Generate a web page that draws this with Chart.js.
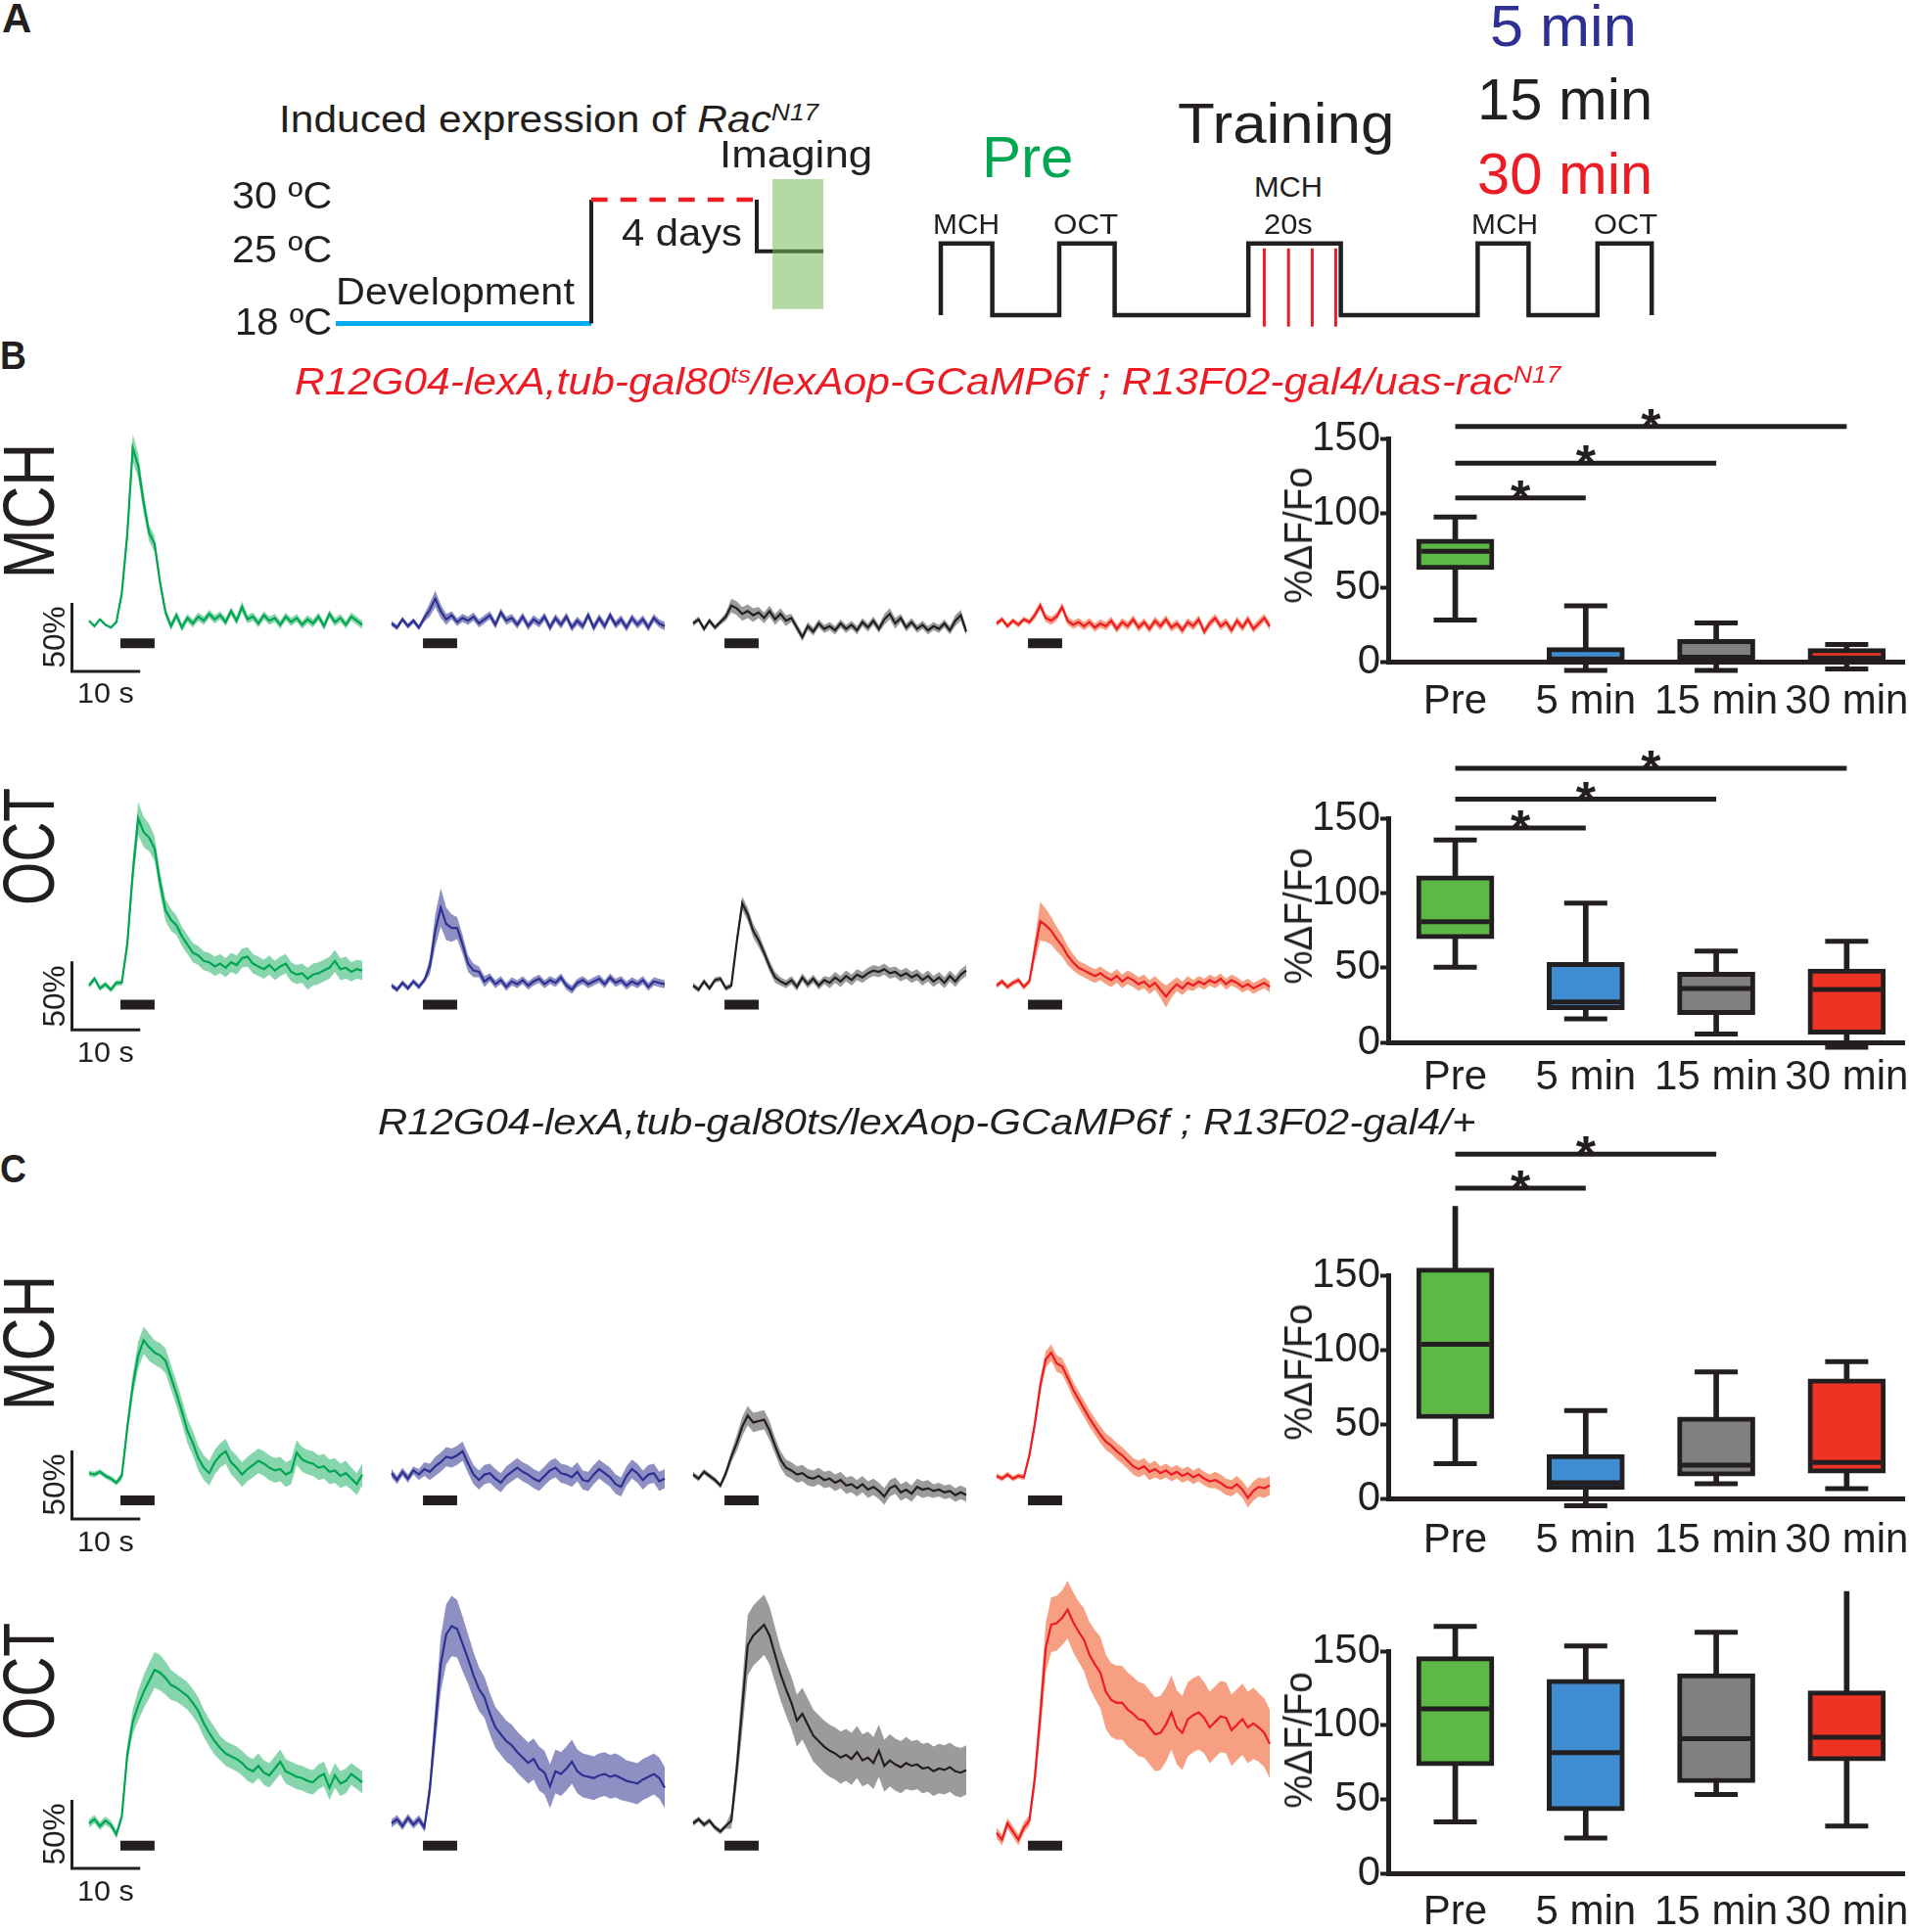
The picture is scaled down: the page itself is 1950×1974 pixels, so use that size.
<!DOCTYPE html>
<html>
<head>
<meta charset="utf-8">
<script src="https://cdn.jsdelivr.net/npm/chart.js@4.4.1/dist/chart.umd.min.js"></script>
<style>
  body { margin: 0; background: #fff; }
  #page { position: relative; width: 1950px; height: 1974px; overflow: hidden; background: #fff;
          font-family: "Liberation Sans", Arial, sans-serif; color: #231f20; }
  .t { position: absolute; white-space: nowrap; line-height: 1; transform-origin: 0 0; }
</style>
</head>
<body>
<div id="page"></div>
<script>
// ---- data ----
const CATEGORIES = ['Pre', '5 min', '15 min', '30 min'];
const Y_TICK_STEP = 50;
const FRAME_S = 0.8;          // sampling interval of the traces
const STIM_S = [4.6, 9.6];    // odor on / off (s)
const SCALE_BAR = { s: 10, pct: 50 };

// mean %dF/F traces and their s.e.m. (one value per frame)
const B_MCH_PRE = [2,-2,3,-1,-3,1,22,65,128,115, 88,66,58,30,8,-2,6,-3,4,0, 5,2,7,3,6,1,9,2,12,3, 5,0,6,2,4,-1,5,1,4,-1, 3,0,5,-2,7,1,4,-1,5,2, -1];
const B_MCH_PRE_SEM = [1,1,1,1,1,1,4,7,10,9, 8,6,6,4,3,3,3,3,3,3, 3,3,3,3,3,3,3,3,4,3, 3,3,3,3,3,3,3,3,3,3, 3,3,3,3,3,3,3,3,3,3, 3];
const B_MCH_5 = [0,-3,3,-2,2,-3,4,10,18,9, 3,6,1,4,2,5,0,3,6,-1, 8,2,4,-1,5,-2,3,0,5,-3, 4,-1,5,-3,2,-2,6,-3,4,-2, 6,-1,3,-3,4,-1,3,-3,4,0, -2];
const B_MCH_5_SEM = [2,2,2,2,2,2,3,5,6,5, 4,3,3,3,3,3,3,3,3,3, 3,3,3,3,3,3,3,3,3,3, 3,3,3,3,3,3,3,3,3,3, 3,3,3,3,3,3,3,3,3,3, 3];
const B_MCH_15 = [0,3,-4,2,-3,1,5,13,11,7, 9,6,8,4,9,3,7,2,4,-3, -10,-2,-6,0,-4,-2,-5,0,-4,-1, -5,1,-3,2,-4,3,7,0,4,-3, 1,-4,-1,-5,-2,-4,0,-5,2,6, -6];
const B_MCH_15_SEM = [2,2,2,2,2,2,3,5,5,5, 5,5,4,4,4,4,4,4,3,3, 3,3,3,3,3,3,3,3,3,3, 3,3,3,3,3,4,4,4,3,3, 3,3,3,3,3,3,3,3,4,4, 3];
const B_MCH_30 = [0,3,-2,2,-1,3,1,6,13,4, 2,5,12,2,-1,1,-2,1,-3,0, -2,2,-4,1,-2,3,-3,1,-4,2, -2,3,-3,0,-5,1,-2,3,-6,0, 4,-2,1,-5,2,-3,3,-4,0,4, -2];
const B_MCH_30_SEM = [2,2,2,2,2,2,2,3,3,3, 3,3,3,3,3,3,3,3,3,3, 3,3,3,3,3,3,3,3,3,3, 3,3,3,3,3,3,3,3,3,3, 3,3,3,3,3,3,3,3,3,3, 3];

const B_OCT_PRE = [0,5,-2,1,-3,2,2,30,82,122, 112,108,100,75,55,48,44,36,30,24, 22,18,17,14,16,13,17,15,20,21, 16,14,12,15,11,14,16,10,8,9, 5,8,9,11,13,18,12,13,10,12, 11];
const B_OCT_PRE_SEM = [2,2,2,2,2,2,2,6,10,12, 11,10,9,8,8,8,7,7,7,7, 7,7,7,7,7,7,7,7,7,7, 7,7,7,7,7,7,7,7,7,7, 8,8,8,8,8,8,8,8,7,7, 7];
const B_OCT_5 = [0,-3,2,-2,3,-1,4,14,40,57, 45,42,42,30,16,11,10,3,6,1, 4,-1,3,1,4,0,3,5,1,4, 2,6,0,-3,2,4,1,3,5,1, 6,2,4,0,3,1,4,-1,3,2, 1];
const B_OCT_5_SEM = [2,2,2,2,2,2,2,6,12,14, 12,10,8,7,6,5,4,4,3,3, 3,3,3,3,3,3,3,3,3,3, 3,3,3,3,3,3,3,3,3,3, 3,3,3,3,3,3,3,3,3,3, 3];
const B_OCT_15 = [0,-3,3,-2,4,5,-2,0,32,60, 52,40,33,24,14,6,3,1,4,-1, 6,1,5,0,4,2,6,3,7,4, 8,6,9,11,10,12,9,10,7,9, 6,8,4,7,3,6,2,7,3,8, 11];
const B_OCT_15_SEM = [2,2,2,2,2,2,2,2,4,5, 5,5,5,4,4,4,3,3,3,3, 3,3,3,3,3,4,4,4,4,4, 4,4,4,4,4,4,4,4,4,4, 4,4,4,4,4,4,4,4,4,4, 4];
const B_OCT_30 = [0,3,-1,2,4,-1,3,26,47,44, 40,34,29,22,17,13,11,9,7,9, 6,4,7,3,6,4,1,3,-1,2, -3,-8,-3,1,-2,2,0,3,1,4, 2,5,1,4,2,-1,1,-2,0,2, -1];
const B_OCT_30_SEM = [2,2,2,2,2,2,2,8,14,12, 10,9,8,7,6,5,5,5,5,5, 5,5,5,5,5,5,5,5,5,5, 6,8,6,5,5,5,4,4,4,4, 4,4,4,4,4,4,4,4,4,4, 4];

const C_MCH_PRE = [2,1,3,0,-2,-5,0,35,66,88, 99,94,90,88,84,72,60,47,33,24, 13,6,2,10,15,18,10,6,1,5, 8,11,9,6,4,5,1,3,17,12, 10,9,6,7,3,4,0,2,-2,-6, 1];
const C_MCH_PRE_SEM = [2,2,2,2,2,2,3,6,8,10, 10,10,9,9,9,9,9,9,9,9, 9,9,9,9,9,9,9,9,9,9, 9,9,9,9,9,9,9,9,9,9, 9,9,9,9,9,9,9,9,8,8, 8];
const C_MCH_5 = [2,-3,3,-2,4,1,5,3,7,10, 14,13,15,18,9,1,-3,1,2,-2, -5,0,3,6,3,1,-2,-4,0,4, 6,2,1,-1,3,-3,-4,1,5,2, -1,-6,-8,0,5,2,-3,1,2,-4, -2];
const C_MCH_5_SEM = [3,3,3,3,3,4,5,6,7,7, 7,7,7,7,7,7,7,7,7,7, 7,7,7,7,7,7,7,7,7,7, 7,7,7,7,7,7,7,7,7,7, 7,7,7,7,7,7,7,7,7,7, 7];
const C_MCH_15 = [1,-2,3,0,-3,-7,2,14,24,36, 44,39,40,41,33,22,12,6,4,1, 2,-1,-2,0,-3,-2,-5,-3,-7,-6, -9,-6,-10,-8,-11,-15,-9,-7,-12,-10, -13,-8,-10,-9,-11,-10,-12,-11,-14,-12, -14];
const C_MCH_15_SEM = [2,2,2,2,2,2,3,4,6,7, 7,7,7,7,7,6,6,6,6,6, 6,6,6,6,6,6,6,6,6,6, 6,6,6,6,6,6,6,6,6,6, 6,6,6,6,5,5,5,5,5,5, 5];
const C_MCH_30 = [0,-2,1,-2,0,-1,15,38,66,85, 90,82,80,72,63,56,49,42,36,30, 25,22,18,15,11,7,5,7,3,5, 2,4,1,3,0,2,-1,1,-2,-4, -3,-5,-8,-9,-6,-10,-16,-11,-8,-9, -7];
const C_MCH_30_SEM = [2,2,2,2,2,2,3,5,6,6, 6,6,6,6,6,6,6,6,6,6, 6,6,6,6,6,6,6,6,6,6, 5,5,5,5,5,5,5,5,5,5, 6,6,6,6,6,6,7,7,7,7, 7];

const C_OCT_PRE = [0,3,-2,2,-1,-8,5,50,74,86, 96,104,112,110,106,101,99,96,93,88, 82,73,66,60,55,51,49,47,44,40, 38,42,37,35,40,45,38,36,34,33, 31,30,34,36,26,35,29,31,36,33, 30];
const C_OCT_PRE_SEM = [3,3,3,3,3,3,3,6,9,11, 12,13,13,13,12,11,10,10,10,10, 10,10,10,10,9,9,9,9,9,9, 9,9,9,9,9,9,9,9,9,9, 9,9,9,9,9,9,9,9,8,8, 8];
const C_OCT_5 = [0,3,-2,4,-1,3,-3,25,71,116, 138,144,142,131,120,108,98,92,80,70, 65,60,57,52,48,44,47,40,37,27, 38,36,40,45,38,35,34,33,35,36, 34,35,33,31,30,29,32,34,36,33, 26];
const C_OCT_5_SEM = [3,3,3,3,3,3,3,8,15,20, 22,22,21,20,18,17,16,15,15,15, 15,15,15,15,15,15,15,16,16,16, 16,16,16,16,16,16,16,16,16,16, 16,16,16,15,15,15,15,15,15,15, 15];
const C_OCT_15 = [0,3,-1,2,-3,-6,-2,2,40,85, 130,137,141,145,137,123,109,98,88,75, 80,72,64,60,56,53,51,48,50,47, 52,46,48,44,53,42,46,43,41,44, 42,43,40,41,38,40,39,41,38,37, 39];
const C_OCT_15_SEM = [2,2,2,2,2,2,2,6,12,18, 22,22,22,22,21,20,19,19,19,19, 19,19,19,19,19,19,19,19,19,19, 19,19,19,19,19,19,19,19,19,19, 18,18,18,18,18,18,18,18,18,18, 18];
const C_OCT_30 = [-7,-12,0,-6,-12,-3,2,33,79,128, 145,146,150,156,147,140,134,123,116,110, 96,90,88,88,83,80,76,75,70,65, 66,72,81,70,66,76,79,81,77,70, 74,78,77,68,72,76,70,73,70,66, 58];
const C_OCT_30_SEM = [4,4,4,4,4,4,4,8,14,18, 20,20,20,21,22,22,23,24,25,26, 27,27,27,27,27,27,27,27,27,27, 27,27,27,27,27,27,27,27,26,26, 26,26,26,26,26,26,26,26,25,25, 25];

// box plots: [min, q1, median, q3, max] per category
const BOX_B_MCH = [[28, 62, 74.3, 82.4, 97.4], [-6, 0, 1, 9.5, 37.6], [-6, 1.5, 2.5, 15, 26], [-5, 1, 1.5, 8.8, 11.6]];
const BOX_B_OCT = [[50.2, 69.4, 80.8, 111.4, 135.4], [15.7, 21.8, 27, 53.5, 93.2], [5.5, 18.6, 36, 47, 61.1], [-3.3, 5.5, 35.4, 49.1, 67.7]];
const BOX_C_MCH = [[23.4, 53.6, 103.6, 154.8, 196.4], [-5, 5.9, 10.5, 29.6, 59.1], [9.9, 15, 22.3, 54.7, 85], [6.6, 17, 24.1, 80.4, 92]];
const BOX_C_OCT = [[34.7, 72.6, 111, 146.3, 166.7], [23.8, 42.2, 81.4, 130.9, 153.5], [53.2, 61.1, 90.8, 134.8, 162.7], [31.9, 75.9, 91.9, 123.2, 190.2]];
// significant comparisons (category index pairs)
const SIG_B_MCH = [[0, 1], [0, 2], [0, 3]];
const SIG_B_OCT = [[0, 1], [0, 2], [0, 3]];
const SIG_C_MCH = [[0, 1], [0, 2]];
const SIG_C_OCT = [];

// protocol schematic
const TEMPS_C = [18, 30, 25];
const TEMP_PHASES = [[0, 13.05], [13.05, 21.5], [21.5, 24.9]];
const IMAGING_WINDOW = [22.3, 24.9];
const ODOR_PULSES = [[0, 2.63], [6.05, 8.88], [15.71, 20.43], [27.42, 30.02], [33.54, 36.31]];
const SHOCKS = [16.52, 17.76, 18.97, 20.17];

// ---- styling / layout ----
const INK = '#231f20', GREEN = '#00a651', BLUE = '#2e3192', RED = '#ed1c24', CYAN = '#00aeef';
const TRACE_COLORS = [
  { line: GREEN, band: 'rgba(0,166,81,0.47)' },
  { line: BLUE, band: 'rgba(46,49,146,0.54)' },
  { line: INK, band: 'rgba(35,31,32,0.45)' },
  { line: RED, band: 'rgba(238,80,30,0.55)' }
];
const BOX_FILL = ['#5cb946', '#3f8cd0', '#808080', '#ee3224'];
const PX_S = 6.97, PX_PCT = 1.4, Y_MIN = -45, Y_MAX = 190, SB_X = -2.5;
const COL_X = [91, 399.5, 708, 1017.5];
const ROWS = [
  { base: 636.7, stim: -14.5, bar: -35, name: 'MCH', labelY: 522, w: 139 },
  { base: 1007.3, stim: -14, bar: -32.4, name: 'OCT', labelY: 865, w: 120 },
  { base: 1508.3, stim: -17.9, bar: -31.4, name: 'MCH', labelY: 1372, w: 139 },
  { base: 1863.3, stim: -16.2, bar: -32.9, name: 'OCT', labelY: 1718, w: 120 }
];
const TRACES = [
  [[B_MCH_PRE, B_MCH_PRE_SEM], [B_MCH_5, B_MCH_5_SEM], [B_MCH_15, B_MCH_15_SEM], [B_MCH_30, B_MCH_30_SEM]],
  [[B_OCT_PRE, B_OCT_PRE_SEM], [B_OCT_5, B_OCT_5_SEM], [B_OCT_15, B_OCT_15_SEM], [B_OCT_30, B_OCT_30_SEM]],
  [[C_MCH_PRE, C_MCH_PRE_SEM], [C_MCH_5, C_MCH_5_SEM], [C_MCH_15, C_MCH_15_SEM], [C_MCH_30, C_MCH_30_SEM]],
  [[C_OCT_PRE, C_OCT_PRE_SEM], [C_OCT_5, C_OCT_5_SEM], [C_OCT_15, C_OCT_15_SEM], [C_OCT_30, C_OCT_30_SEM]]
];
const BOXES = [
  { stats: BOX_B_MCH, sig: SIG_B_MCH, sigH: [110.1, 133.6, 158.2], top: 400, padTop: 48.3, plotH: 227.7, axisH: 69, labPad: 16, titleY: 547 },
  { stats: BOX_B_OCT, sig: SIG_B_OCT, sigH: [143.4, 162.7, 183.4], top: 750, padTop: 86, plotH: 229, axisH: 69, labPad: 11, titleY: 936 },
  { stats: BOX_C_MCH, sig: SIG_C_MCH, sigH: [208.5, 231.4], top: 1140, padTop: 163, plotH: 228.3, axisH: 69, labPad: 18, titleY: 1402 },
  { stats: BOX_C_OCT, sig: SIG_C_OCT, sigH: [], top: 1611, padTop: 76, plotH: 227.3, axisH: 63, labPad: 15, titleY: 1778 }
];

Chart.defaults.animation = false;
Chart.defaults.responsive = false;
Chart.defaults.layout.autoPadding = false;
Chart.defaults.font.family = '"Liberation Sans", Arial, sans-serif';
Chart.defaults.color = INK;
Chart.defaults.plugins.legend.display = false;
Chart.defaults.plugins.tooltip.enabled = false;

const page = document.getElementById('page');

function canvas(left, top, w, h) {
  const c = document.createElement('canvas');
  c.width = Math.round(w);
  c.height = Math.round(h);
  c.style.cssText = 'position:absolute;left:' + left + 'px;top:' + top + 'px;width:' + Math.round(w) + 'px;height:' + Math.round(h) + 'px';
  page.appendChild(c);
  return c;
}

function sup(s) {
  return '<span style="position:relative;top:-0.5em;font-size:0.62em">' + s + '</span>';
}

// text placed by baseline (or centre when rotated), squeezed/stretched to width w
function txt(html, o) {
  const d = document.createElement('div');
  d.className = 't';
  d.innerHTML = html;
  d.style.fontSize = o.size + 'px';
  d.style.color = o.color || INK;
  if (o.italic) d.style.fontStyle = 'italic';
  if (o.bold) d.style.fontWeight = 'bold';
  page.appendChild(d);
  const w0 = d.offsetWidth;
  const sx = o.w ? o.w / w0 : 1;
  if (o.rot) {
    d.style.left = o.cx + 'px';
    d.style.top = o.cy + 'px';
    d.style.transform = 'rotate(-90deg) scaleX(' + sx + ') translate(-50%,-50%)';
  } else {
    const w = w0 * sx;
    let left = o.x;
    if (o.align === 'center') left -= w / 2;
    if (o.align === 'right') left -= w;
    d.style.left = left + 'px';
    d.style.top = (o.y - 0.85 * o.size) + 'px';
    d.style.transform = 'scaleX(' + sx + ')';
  }
}

const seg = (pts, color, width, extra) => Object.assign({
  data: pts.map(p => ({ x: p[0], y: p[1] })),
  borderColor: color, borderWidth: width, pointRadius: 0, fill: false, clip: false
}, extra || {});

// ---- panel A, temperature protocol ----
(function () {
  const [dev, heat, img] = TEMP_PHASES;
  const ds = [
    seg([[IMAGING_WINDOW[0], 32], [IMAGING_WINDOW[1], 32]], 'rgba(0,0,0,0)', 0, { fill: '+1', backgroundColor: 'rgba(118,186,91,0.55)' }),
    seg([[IMAGING_WINDOW[0], 19.4], [IMAGING_WINDOW[1], 19.4]], 'rgba(0,0,0,0)', 0),
    seg([[img[0], TEMPS_C[1]], [img[0], TEMPS_C[2]], [img[1], TEMPS_C[2]]], INK, 4, { borderJoinStyle: 'miter' }),
    seg([[heat[0], TEMPS_C[1]], [heat[1], TEMPS_C[1]]], RED, 4.5, { borderDash: [16.6, 13.1] }),
    seg([[heat[0], TEMPS_C[0]], [heat[0], TEMPS_C[1]]], INK, 4),
    seg([[dev[0], TEMPS_C[0]], [dev[1], TEMPS_C[0]]], CYAN, 5)
  ];
  new Chart(canvas(322.8, 162.3, 540, 200.3), {
    type: 'line',
    data: { datasets: ds },
    options: {
      layout: { padding: 0 },
      scales: { x: { type: 'linear', min: -1, max: 26, display: false }, y: { min: 15, max: 34, display: false } }
    }
  });
})();

// ---- panel A, odor / shock protocol ----
(function () {
  const wave = [];
  ODOR_PULSES.forEach(([a, b]) => { wave.push([a, 0], [a, 1], [b, 1], [b, 0]); });
  const ds = [seg(wave, INK, 4.5, { borderJoinStyle: 'miter' })];
  SHOCKS.forEach(s => ds.push(seg([[s, -0.16], [s, 0.93]], RED, 3)));
  new Chart(canvas(940.6, 233.6, 770, 110.1), {
    type: 'line',
    data: { datasets: ds },
    options: {
      layout: { padding: 0 },
      scales: { x: { type: 'linear', min: -1, max: 37.5, display: false }, y: { min: -0.3, max: 1.2, display: false } }
    }
  });
})();

// ---- calcium traces ----
function traceChart(r, c) {
  const row = ROWS[r];
  const [mean, sem] = TRACES[r][c];
  const xmin = c === 0 ? -3 : -1, xmax = 41;
  const t = i => i * FRAME_S;
  const ds = [
    { data: mean.map((v, i) => ({ x: t(i), y: v })), borderColor: TRACE_COLORS[c].line, borderWidth: 2.2, pointRadius: 0 },
    { data: mean.map((v, i) => ({ x: t(i), y: v + sem[i] })), borderWidth: 0, pointRadius: 0, fill: '+1', backgroundColor: TRACE_COLORS[c].band },
    { data: mean.map((v, i) => ({ x: t(i), y: v - sem[i] })), borderWidth: 0, pointRadius: 0 },
    seg([[STIM_S[0], row.stim], [STIM_S[1], row.stim]], INK, 10, { borderCapStyle: 'butt' })
  ];
  if (c === 0) {
    ds.push(seg([[SB_X, row.bar + SCALE_BAR.pct], [SB_X, row.bar], [SB_X + SCALE_BAR.s, row.bar]], INK, 3, { borderJoinStyle: 'miter' }));
  }
  new Chart(canvas(COL_X[c] + xmin * PX_S, row.base - Y_MAX * PX_PCT, (xmax - xmin) * PX_S, (Y_MAX - Y_MIN) * PX_PCT), {
    type: 'line',
    data: { datasets: ds },
    options: {
      layout: { padding: 0 },
      elements: { line: { tension: 0 } },
      scales: { x: { type: 'linear', min: xmin, max: xmax, display: false }, y: { min: Y_MIN, max: Y_MAX, display: false } }
    }
  });
}
for (let r = 0; r < 4; r++) for (let c = 0; c < 4; c++) traceChart(r, c);

// ---- box plots ----
const starPlugin = {
  id: 'stars',
  afterDatasetsDraw(chart, args, opts) {
    const { ctx, scales: { x, y } } = chart;
    ctx.save();
    ctx.font = 'bold 52px "Liberation Sans", Arial, sans-serif';
    ctx.fillStyle = INK;
    ctx.textAlign = 'center';
    ctx.textBaseline = 'alphabetic';
    (opts.items || []).forEach(it => ctx.fillText('*', x.getPixelForValue(it.x), y.getPixelForValue(it.y) + 18));
    ctx.restore();
  }
};

function boxChart(b) {
  const s = b.stats;
  const ds = [
    { type: 'line', data: s.map((v, i) => ({ x: i, y: v[2] })), showLine: false, pointStyle: 'line', pointRadius: 35, pointBorderWidth: 5, pointBorderColor: INK, clip: false },
    { type: 'line', data: s.flatMap((v, i) => [{ x: i, y: v[0] }, { x: i, y: v[4] }]), showLine: false, pointStyle: 'line', pointRadius: 22, pointBorderWidth: 5, pointBorderColor: INK, clip: false },
    { type: 'bar', data: s.map((v, i) => ({ x: i, y: [v[1], v[3]] })), backgroundColor: BOX_FILL, borderColor: INK, borderWidth: 5, borderSkipped: false, barThickness: 79, grouped: false, clip: false },
    { type: 'bar', data: s.map((v, i) => ({ x: i, y: [v[0], v[4]] })), backgroundColor: INK, borderWidth: 0, barThickness: 5, grouped: false, clip: false }
  ];
  b.sig.forEach((p, j) => ds.push({ type: 'line', data: [{ x: p[0], y: b.sigH[j] }, { x: p[1], y: b.sigH[j] }], borderColor: INK, borderWidth: 5, pointRadius: 0, clip: false }));
  const h = b.padTop + b.plotH + b.axisH;
  new Chart(canvas(1297, b.top, 653, h), {
    type: 'bar',
    data: { datasets: ds },
    plugins: [starPlugin],
    options: {
      layout: { autoPadding: false, padding: { top: b.padTop, right: 5, left: 0, bottom: 0 } },
      plugins: { stars: { items: b.sig.map((p, j) => ({ x: (p[0] + p[1]) / 2, y: b.sigH[j] })) } },
      scales: {
        x: {
          type: 'linear', min: -0.514, max: 3.44, offset: false,
          afterBuildTicks: sc => { sc.ticks = CATEGORIES.map((_, i) => ({ value: i })); },
          afterFit: sc => { sc.height = b.axisH; sc.paddingLeft = 0; sc.paddingRight = 0; },
          ticks: { callback: v => CATEGORIES[v], font: { size: 42 }, color: INK, padding: b.labPad, autoSkip: false, maxRotation: 0 },
          grid: { display: false, drawTicks: false },
          border: { display: true, width: 5, color: INK }
        },
        y: {
          min: 0, max: 150,
          afterFit: sc => { sc.width = 121; sc.paddingTop = 0; sc.paddingBottom = 0; },
          ticks: { stepSize: Y_TICK_STEP, font: { size: 42 }, color: INK, padding: 0 },
          grid: { display: true, drawOnChartArea: false, drawTicks: true, tickLength: 8, tickWidth: 4, tickColor: INK },
          border: { display: true, width: 5, color: INK }
        }
      }
    }
  });
  txt('%ΔF/Fo', { rot: true, cx: 1326, cy: b.titleY, size: 40, w: 140 });
}
BOXES.forEach(boxChart);

// ---- text ----
txt('A', { x: 2, y: 34, size: 42, bold: true, w: 30 });
txt('B', { x: 0, y: 377, size: 40, bold: true, w: 27 });
txt('C', { x: 0, y: 1208, size: 40, bold: true, w: 27 });

txt('Induced expression of <i>Rac</i>' + sup('<i>N17</i>'), { x: 284.7, y: 135, size: 38, w: 551 });
txt('30 ºC', { x: 339, y: 213.3, size: 38, w: 102, align: 'right' });
txt('25 ºC', { x: 339, y: 268.3, size: 38, w: 102, align: 'right' });
txt('18 ºC', { x: 339, y: 342, size: 38, w: 99, align: 'right' });
txt('Development', { x: 342.8, y: 311.7, size: 38, w: 244 });
txt('4 days', { x: 634.6, y: 251.7, size: 38, w: 123 });
txt('Imaging', { x: 735, y: 171.7, size: 38, w: 156 });

txt('Pre', { x: 1002.9, y: 181.7, size: 60, color: GREEN, w: 93 });
txt('Training', { x: 1203.3, y: 146.7, size: 58, w: 221 });
txt('5 min', { x: 1522, y: 48.3, size: 60, color: BLUE, w: 150 });
txt('15 min', { x: 1509, y: 123.3, size: 60, w: 179 });
txt('30 min', { x: 1509, y: 199.3, size: 60, color: RED, w: 179 });
txt('MCH', { x: 952.8, y: 239.3, size: 29, w: 68 });
txt('OCT', { x: 1076.4, y: 239.3, size: 29, w: 66 });
txt('MCH', { x: 1281.3, y: 201.7, size: 29, w: 70 });
txt('20s', { x: 1291, y: 239.3, size: 29, w: 50 });
txt('MCH', { x: 1502.5, y: 239.3, size: 29, w: 68 });
txt('OCT', { x: 1627.5, y: 239.3, size: 29, w: 65 });

txt('R12G04-lexA,tub-gal80' + sup('ts') + '/lexAop-GCaMP6f ; R13F02-gal4/uas-rac' + sup('N17'), { x: 301, y: 403.3, size: 38, italic: true, color: RED, w: 1294 });
txt('R12G04-lexA,tub-gal80ts/lexAop-GCaMP6f ; R13F02-gal4/+', { x: 386, y: 1160, size: 36, italic: true, w: 1122 });

ROWS.forEach(row => {
  txt(row.name, { rot: true, cx: 29.6, cy: row.labelY, size: 74, w: row.w });
  txt('50%', { rot: true, cx: 55, cy: row.base - (row.bar + SCALE_BAR.pct / 2) * PX_PCT, size: 32, w: 63 });
  txt('10 s', { x: COL_X[0] + (SB_X + SCALE_BAR.s / 2) * PX_S, y: row.base - row.bar * PX_PCT + 33, size: 30, w: 58, align: 'center' });
});
</script>
</body>
</html>
